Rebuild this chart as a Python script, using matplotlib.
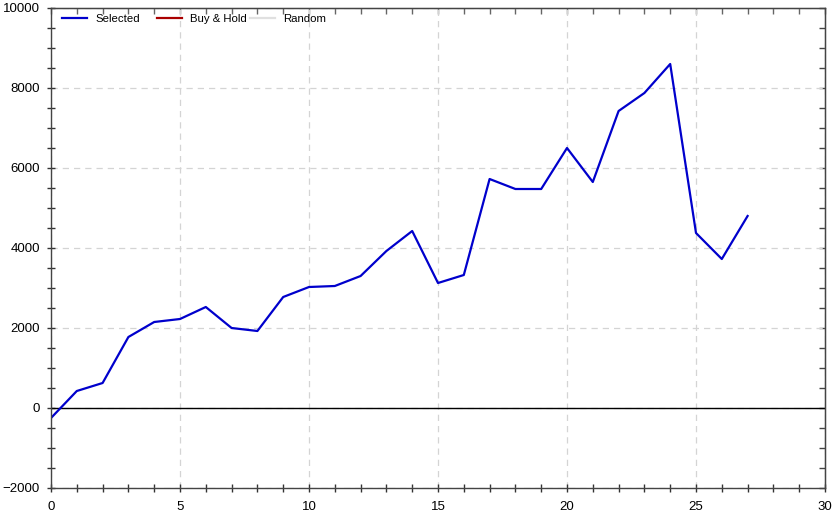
import matplotlib
matplotlib.use("Agg")
import matplotlib.pyplot as plt
from matplotlib.ticker import MultipleLocator
from matplotlib.lines import Line2D
from matplotlib.legend import Legend

plt.rcParams['font.family'] = ['Liberation Sans', 'DejaVu Sans']

trades = list(range(28))
selected = [-250, 425, 625, 1775, 2150, 2225, 2525, 2000, 1925, 2775,
            3025, 3050, 3300, 3925, 4425, 3125, 3325, 5725, 5475, 5475,
            6500, 5650, 7425, 7875, 8600, 4375, 3725, 4800]
series_names = ["Selected", "Buy & Hold", "Random"]
series_colors = ['#0000cc', '#aa0000', '#e0e0e0']

W, H = 838, 512
fig = plt.figure(figsize=(W/100, H/100), dpi=100)
ax = fig.add_axes([51/W, 24/H, (825-51)/W, (488-8)/H])

ax.plot(trades, selected, color=series_colors[0], lw=1.6, label=series_names[0])

ax.axhline(0, color='black', lw=1.0, zorder=1)

ax.set_xlim(0, 30)
ax.set_ylim(-2000, 10000)
ax.xaxis.set_major_locator(MultipleLocator(5))
ax.xaxis.set_minor_locator(MultipleLocator(1))
ax.yaxis.set_major_locator(MultipleLocator(2000))
ax.yaxis.set_minor_locator(MultipleLocator(500))

ax.grid(True, which='major', color='#d4d4d4', linestyle=(0, (5, 4)), lw=0.9)
ax.set_axisbelow(True)

ax.tick_params(axis='both', which='both', direction='inout', length=6, width=1,
               labelsize=9.5, colors='#333333', labelcolor='black')
ax.tick_params(axis='x', which='both', pad=6)
ax.tick_params(axis='y', which='both', pad=5)

# top / right ticks pointing inward only
sx = ax.secondary_xaxis('top')
sx.xaxis.set_major_locator(MultipleLocator(5))
sx.xaxis.set_minor_locator(MultipleLocator(1))
sx.tick_params(which='both', direction='in', length=4, width=1,
               colors='#666666', labeltop=False)
sx.set_xticklabels([])
sy = ax.secondary_yaxis('right')
sy.yaxis.set_major_locator(MultipleLocator(2000))
sy.yaxis.set_minor_locator(MultipleLocator(500))
sy.tick_params(which='both', direction='in', length=4, width=1,
               colors='#444444', labelright=False)

for s in ax.spines.values():
    s.set_color('#444444')
    s.set_linewidth(1.0)

# legend entries in fixed-width columns
col_x = [62, 157, 250]
for name, color, x in zip(series_names, series_colors, col_x):
    h = Line2D([], [], color=color, lw=1.6)
    leg = Legend(ax, [h], [name], loc='center left',
                 bbox_to_anchor=(x/W, 1 - 19/H), bbox_transform=fig.transFigure,
                 frameon=False, fontsize=8.2, handlelength=2.2,
                 handletextpad=0.7, borderpad=0, borderaxespad=0)
    ax.add_artist(leg)

fig.savefig('out.png', dpi=100)
